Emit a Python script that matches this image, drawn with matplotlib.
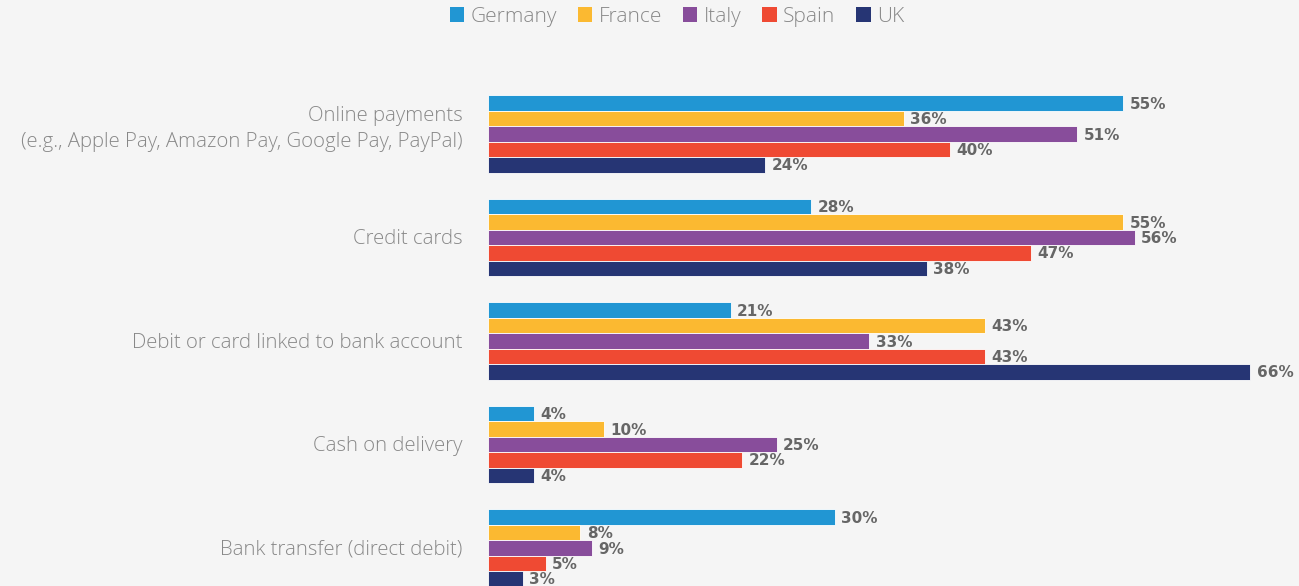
import matplotlib.pyplot as plt
from matplotlib.patches import Patch
import numpy as np

BG = "#f5f5f5"

categories = [
    "Online payments\n(e.g., Apple Pay, Amazon Pay, Google Pay, PayPal)",
    "Credit cards",
    "Debit or card linked to bank account",
    "Cash on delivery",
    "Bank transfer (direct debit)",
]
countries = ["Germany", "France", "Italy", "Spain", "UK"]
colors = ["#2196d3", "#fbb931", "#884d9b", "#ef4a33", "#263574"]

germany = [55, 28, 21, 4, 30]
france = [36, 55, 43, 10, 8]
italy = [51, 56, 33, 25, 9]
spain = [40, 47, 43, 22, 5]
uk = [24, 38, 66, 4, 3]
series = [germany, france, italy, spain, uk]

plt.rcParams["font.family"] = ["Open Sans", "DejaVu Sans"]
GREY = "#888888"

fig = plt.figure(figsize=(12.99, 5.86), dpi=100, facecolor=BG)
ax = fig.add_axes([488 / 1299, 0.0, 1 - 488 / 1299, 1.0], facecolor=BG)

bar_h = 0.149
y0 = np.arange(len(categories))
for k, (vals, c) in enumerate(zip(series, colors)):
    ys = y0 + (k - 2) * bar_h
    ax.barh(ys, vals, height=bar_h, color=c, edgecolor="white", linewidth=0.6)
    for v, yy in zip(vals, ys):
        ax.text(v + 0.55, yy + 0.01, f"{v}%", ha="left", va="center",
                family="DejaVu Sans", fontsize=11, fontweight="bold",
                color="#666666")

# category labels, right aligned left of the bars
for i, cat in enumerate(categories):
    dy = -0.05 if "\n" in cat else 0.015
    ax.text(-0.031, y0[i] + dy, cat, transform=ax.get_yaxis_transform(),
            ha="right", va="center", multialignment="right",
            fontsize=14.7, fontweight="light", color=GREY, linespacing=1.4)

ax.set_xlim(0, 70.2)
ax.set_ylim(4.367, -1.295)
ax.set_yticks([])
ax.set_xticks([])
for s in ax.spines.values():
    s.set_visible(False)

handles = [Patch(facecolor=c, edgecolor="none") for c in colors]
fig.legend(handles, countries, loc="center", bbox_to_anchor=(0.521, 0.971),
           ncol=5, frameon=False, prop={"size": 15, "weight": "light"},
           labelcolor=GREY, handlelength=0.7, handleheight=0.7,
           handletextpad=0.3, columnspacing=1.0)

fig.savefig("out.png", dpi=100, facecolor=BG)
